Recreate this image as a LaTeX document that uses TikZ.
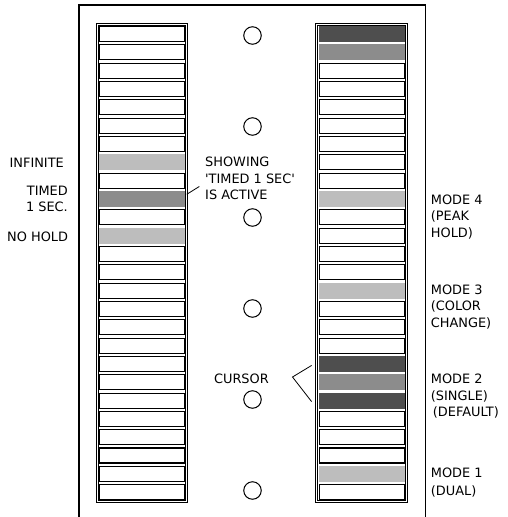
\documentclass[tikz,border=0pt]{standalone}
\usepackage{fontspec}
\setmainfont{DejaVu Sans}
\usepackage{tikz}
\usetikzlibrary{positioning}
\usepackage{xcolor}
\definecolor{barlight}{HTML}{BDBDBD}
\definecolor{barmid}{HTML}{8C8C8C}
\definecolor{bardark}{HTML}{4E4E4E}

\begin{document}
\begin{tikzpicture}[x=1pt, y=-1pt,
    cell/.style={draw, line width=1.2pt, fill=white, inner sep=0pt,
      minimum width=85pt, minimum height=15pt},
    lit/.style={cell, fill=#1, draw=#1},
    hole/.style={draw, circle, line width=1pt, minimum size=17.5pt, inner sep=0pt},
    lbl/.style={font=\fontsize{12.9}{16.5}\selectfont, inner sep=0pt}]
  \useasboundingbox (0,0) rectangle (507,517);

  % Open frame round the panel
  \draw[line width=1.3pt] (79,517) -- (79,5) -- (425.5,5) -- (425.5,517);

  % Two bar columns
  \draw[double, double distance=1.1pt, line width=0.7pt]
    (97.7,24.3) rectangle (186.7,501.3);
  \draw[double, double distance=1.1pt, line width=0.7pt]
    (316.7,24.3) rectangle (406.7,501.3);

  % Left column cells
  \foreach \i in {0,...,6,8,10,12,13,...,25}
    \node[cell] (L\i) at (142.2, 34+18.33*\i) {};
  \node[lit=barlight] (L7) at (142.2, 34+18.33*7) {};
  \node[lit=barmid] (L9) at (142.2, 34+18.33*9) {};
  \node[lit=barlight] (L11) at (142.2, 34+18.33*11) {};

  % Right column cells
  \foreach \i in {2,...,8,10,11,12,13,15,16,17,21,22,23,25}
    \node[cell] (R\i) at (361.7, 34+18.33*\i) {};
  \node[lit=bardark] (R0) at (361.7, 34) {};
  \node[lit=barmid] (R1) at (361.7, 34+18.33) {};
  \foreach \i in {9,14,24}
    \node[lit=barlight] (R\i) at (361.7, 34+18.33*\i) {};
  \node[lit=bardark] (R18) at (361.7, 34+18.33*18) {};
  \node[lit=barmid] (R19) at (361.7, 34+18.33*19) {};
  \node[lit=bardark] (R20) at (361.7, 34+18.33*20) {};

  % Round holes in the middle
  \foreach \k in {0,...,5}
    \node[hole] (hole\k) at (252.5, 35.5+91*\k) {};

  % Left labels
  \node[lbl, anchor=east] (infinite) at (64,162.5) {INFINITE};
  \node[lbl, anchor=east, align=right] (timed) at (68,199)
    {TIMED\hspace{4pt}\\1 SEC.};
  \node[lbl, anchor=east] (nohold) at (68.3,236.5) {NO HOLD};

  % Middle notes
  \node[lbl, anchor=west, align=left] (show) at (205,178.5)
    {SHOWING\\\textquotesingle TIMED 1 SEC\textquotesingle\\IS ACTIVE};
  \draw[line width=0.8pt] ([xshift=1.5pt,yshift=4.7pt]L9.east)
    -- ([xshift=-5.7pt,yshift=-8pt]show.west);

  \node[lbl, anchor=east] (cursor) at (269,379) {CURSOR};
  \coordinate (curtip) at (292.5,377);
  \draw[line width=0.8pt] ([xshift=-7pt,yshift=-1.5pt]R18.west) -- (curtip)
    -- ([xshift=-7pt,yshift=-1pt]R20.west);

  % Right labels
  \node[lbl, anchor=west, align=left] (mode4) at (430.7,217)
    {MODE 4\\(PEAK\\HOLD)};
  \node[lbl, anchor=west, align=left] (mode3) at (430.7,307)
    {MODE 3\\(COLOR\\CHANGE)};
  \node[lbl, anchor=west, align=left] (mode2) at (430.7,396.5)
    {MODE 2\\(SINGLE)\\\hspace{2pt}(DEFAULT)};
  \node[lbl, anchor=west, align=left] (mode1) at (430.7,482.5)
    {MODE 1\\[2pt](DUAL)};
\end{tikzpicture}
\end{document}
